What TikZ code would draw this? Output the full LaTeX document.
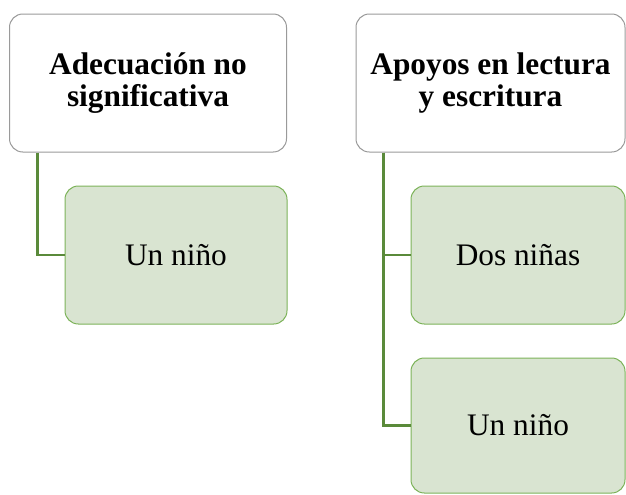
\documentclass[tikz,border=0pt]{standalone}
\usepackage{fontspec}
\setmainfont{Liberation Serif}
\usetikzlibrary{calc}
\usetikzlibrary{positioning}

\definecolor{leafgreen}{HTML}{D9E4D1}
\definecolor{leafedge}{HTML}{7DB35A}
\definecolor{linkgreen}{HTML}{5A8A3A}
\definecolor{headedge}{HTML}{9A9A9A}

\begin{document}
\begin{tikzpicture}[x=0.75pt, y=-0.75pt]
        % Define styles for shapes
        \tikzset{
            headbox/.style={draw=headedge, fill=white, rounded corners=10pt, line width=0.75pt,
                minimum height=103.5pt, inner sep=0pt, align=center,
                font=\fontsize{23.5}{24.5}\selectfont\bfseries},
            leafbox/.style={draw=leafedge, fill=leafgreen, rounded corners=10pt, line width=0.75pt,
                minimum height=103.5pt, inner sep=0pt, align=center,
                font=\fontsize{23.5}{24.5}\selectfont},
            link/.style={draw=linkgreen, line width=1.8pt}
        }
        \useasboundingbox (0,0) rectangle (626,494);
        % Draw shapes
        \node[headbox, minimum width=207.75pt] (head1) at (148,83) {Adecuación no\\significativa};
        \node[headbox, minimum width=201.75pt] (head2) at (490.5,83) {Apoyos en lectura\\y escritura};

        \node[leafbox, minimum width=166.5pt] (leaf1) at (176,255) {Un niño};
        \node[leafbox, minimum width=160.5pt] (leaf2) at (518,255) {Dos niñas};
        \node[leafbox, minimum width=160.5pt, minimum height=101.25pt] (leaf3) at (518,425.5) {Un niño};
        % Draw connectors
        \draw[link] ($(head1.south west)+(28.5,0)$) |- (leaf1.west);
        \draw[link] ($(head2.south west)+(28,0)$) |- (leaf2.west);
        \draw[link] ($(head2.south west)+(28,0)$) |- (leaf3.west);
    \end{tikzpicture}
\end{document}
